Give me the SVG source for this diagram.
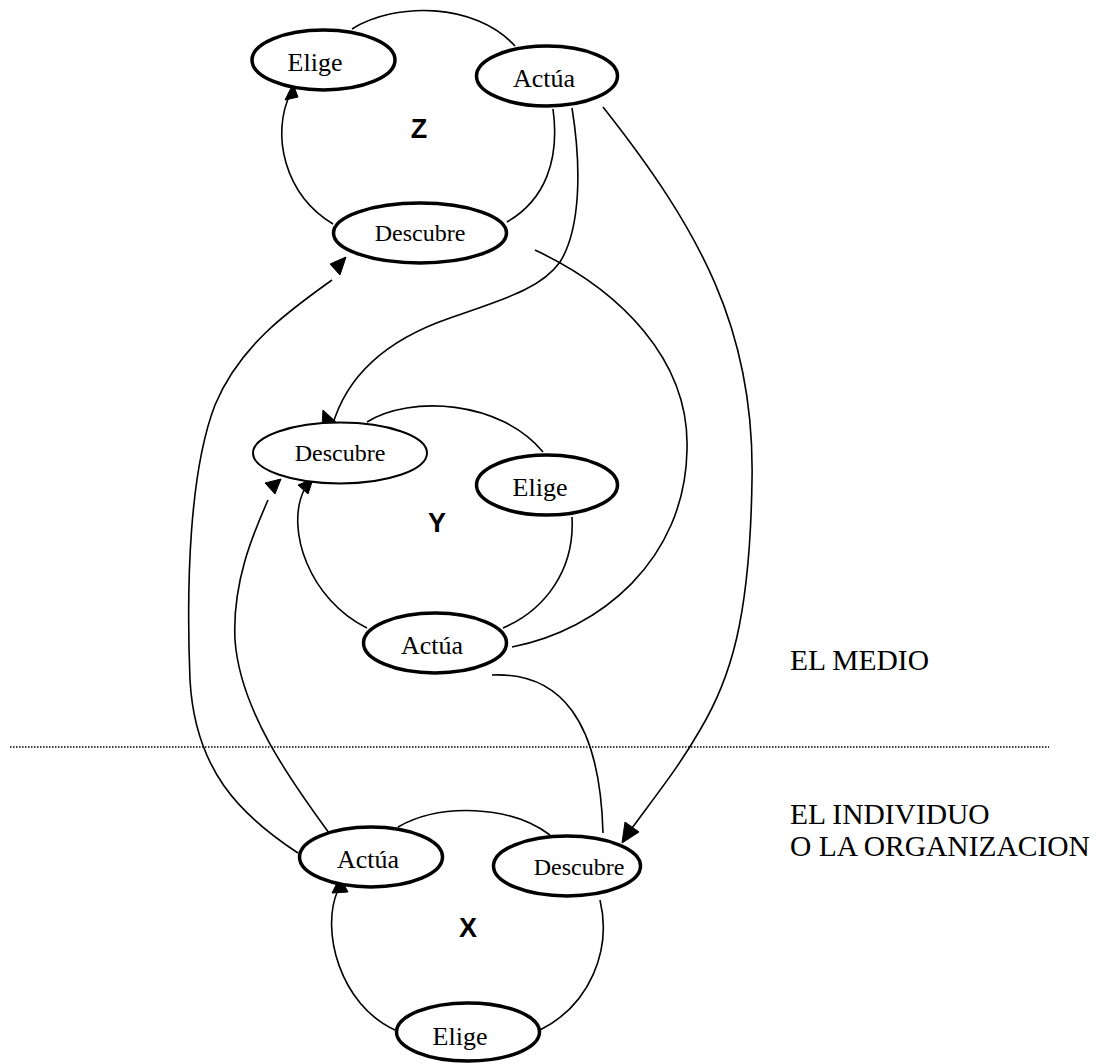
<svg xmlns="http://www.w3.org/2000/svg" width="1097" height="1064" viewBox="0 0 1097 1064">
<style>
.node ellipse{fill:#fff;stroke:#000;stroke-width:3.5}
.node ellipse.thin{stroke-width:2}
.node text{font-family:"Liberation Serif","Times New Roman",serif;font-size:26px;fill:#000;text-anchor:middle}
.node text.sm{font-size:24px}
.conn path{fill:none;stroke:#000;stroke-width:1.6}
.conn polygon{fill:#000;stroke:#000;stroke-width:1}
.big{font-family:"Liberation Sans",Arial,sans-serif;font-weight:bold;font-size:27px;text-anchor:middle}
.lbl{font-family:"Liberation Serif","Times New Roman",serif;font-size:29.5px}
</style>
<rect width="1097" height="1064" fill="#fff"/>
<line x1="10" y1="747" x2="1049" y2="747" stroke="#000" stroke-width="1.5" stroke-dasharray="1.5 1.5"/>
<g id="connectors" class="conn">
<path d="M 352 29 C 395 2, 475 2, 515 46"/>
<path d="M 553 109 C 560 160, 545 200, 507 222"/>
<path d="M 333 224 C 285 195, 270 135, 291 92"/>
<polygon points="293,84 285,100 298,97"/>
<path d="M 367 422 C 410 395, 500 400, 543 452"/>
<path d="M 572 517 C 575 570, 545 610, 503 628"/>
<path d="M 367 628 C 310 600, 285 530, 304 490"/>
<polygon points="298,485 313,479 308,494"/>
<path d="M 398 827 C 440 803, 510 805, 550 835"/>
<path d="M 600 900 C 612 950, 590 1005, 540 1030"/>
<path d="M 395 1030 C 340 1005, 320 930, 338 890"/>
<polygon points="340,877 332,893 348,892"/>
<path d="M 603 107 C 700 230, 755 330, 752 480 C 750 620, 730 680, 700 730 C 680 765, 660 790, 632 828"/>
<polygon points="625,822 639,832 622,843"/>
<path d="M 572 108 C 582 170, 580 230, 560 262 C 540 290, 500 300, 450 318 C 380 342, 345 380, 332 427"/>
<polygon points="323,410 322,426 336,422"/>
<path d="M 535 250 C 620 290, 690 360, 687 450 C 685 560, 600 630, 512 647"/>
<path d="M 492 675 C 560 672, 600 720, 603 833"/>
<path d="M 298 853 C 240 815, 195 770, 190 680 C 186 580, 190 470, 215 405 C 240 345, 290 310, 332 280"/>
<polygon points="346,257 330,264 340,275"/>
<path d="M 332 837 C 290 780, 240 710, 235 640 C 232 580, 255 530, 268 500"/>
<polygon points="265,483 281,479 275,494"/>
</g>
<g id="z-elige" class="node"><ellipse cx="323.5" cy="60" rx="71.5" ry="30"/><text x="315" y="71">Elige</text></g>
<g id="z-actua" class="node"><ellipse cx="547" cy="76" rx="70.5" ry="30"/><text x="544" y="87">Actúa</text></g>
<g id="z-descubre" class="node"><ellipse cx="420" cy="233" rx="86.5" ry="30"/><text class="sm" x="420" y="241">Descubre</text></g>
<g id="y-descubre" class="node"><ellipse class="thin" cx="340" cy="453" rx="87" ry="30.5"/><text class="sm" x="340" y="461">Descubre</text></g>
<g id="y-elige" class="node"><ellipse cx="547" cy="485" rx="70.5" ry="30"/><text x="540" y="496">Elige</text></g>
<g id="y-actua" class="node"><ellipse cx="435" cy="643" rx="71.5" ry="30"/><text x="432" y="654">Actúa</text></g>
<g id="x-actua" class="node"><ellipse cx="371" cy="857" rx="71.5" ry="30"/><text x="368" y="868">Actúa</text></g>
<g id="x-descubre" class="node"><ellipse cx="567" cy="866" rx="73.5" ry="30"/><text class="sm" x="579" y="875">Descubre</text></g>
<g id="x-elige" class="node"><ellipse cx="468" cy="1032" rx="71.5" ry="29"/><text x="460" y="1045">Elige</text></g>
<text class="big" x="419" y="138">Z</text>
<text class="big" x="437" y="532">Y</text>
<text class="big" x="468" y="937">X</text>
<text class="lbl" x="790" y="670">EL MEDIO</text>
<text class="lbl" x="790" y="824">EL INDIVIDUO</text>
<text class="lbl" x="790" y="856">O LA ORGANIZACION</text>
</svg>
